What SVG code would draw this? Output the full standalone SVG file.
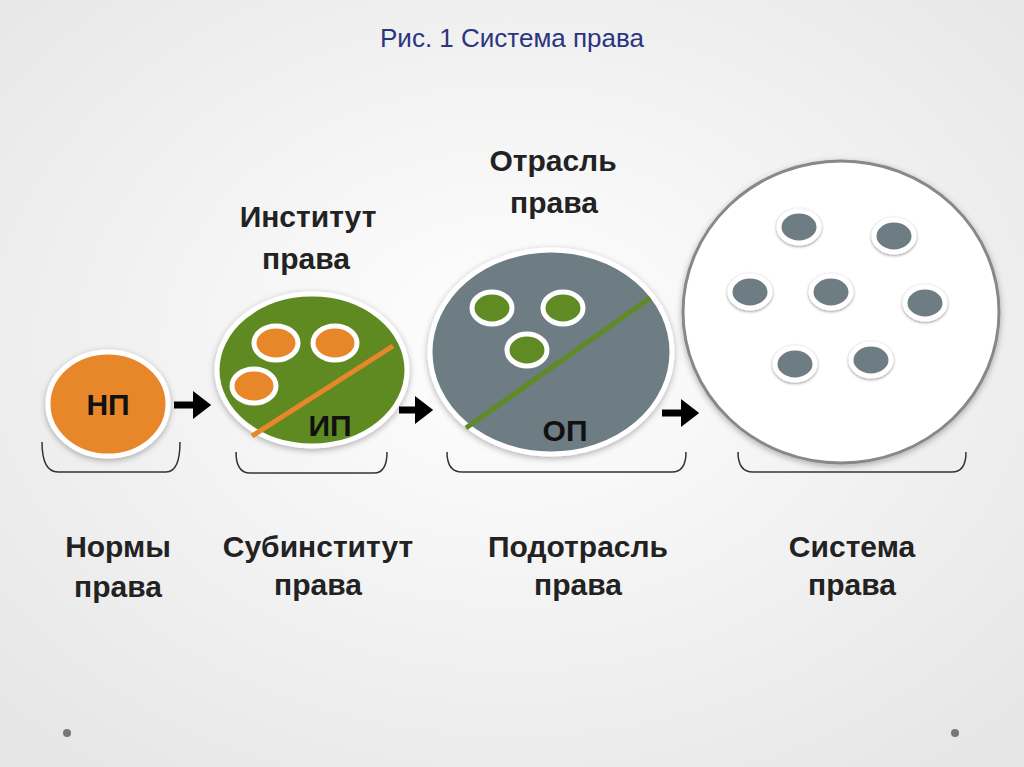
<svg xmlns="http://www.w3.org/2000/svg" width="1024" height="767" viewBox="0 0 1024 767">
<defs>
<radialGradient id="bg" cx="0.5" cy="0.45" r="0.7"><stop offset="0" stop-color="#ffffff"/><stop offset="1" stop-color="#e6e6e6"/></radialGradient>
<marker id="ah" markerWidth="4" markerHeight="4" refX="1" refY="2" orient="auto" markerUnits="strokeWidth"><path d="M0,0 L2.6,2 L0,4 Z" fill="#000"/></marker>
<filter id="sh" x="-20%" y="-20%" width="140%" height="140%"><feDropShadow dx="0" dy="2" stdDeviation="3" flood-color="#000" flood-opacity="0.3"/></filter>
<filter id="sh2" x="-40%" y="-40%" width="180%" height="180%"><feDropShadow dx="0" dy="1" stdDeviation="1.5" flood-color="#000" flood-opacity="0.45"/></filter>
</defs>
<style>
.t{font-family:"Liberation Sans",Arial,sans-serif;font-weight:bold;font-size:30px;fill:#222;text-anchor:middle}
.in{font-family:"Liberation Sans",Arial,sans-serif;font-weight:bold;font-size:30px;fill:#111;text-anchor:middle}
.br{fill:none;stroke:#333;stroke-width:1.5}
.o{fill:#E8862A;stroke:#fff;stroke-width:5}
.g{fill:#5F8A24;stroke:#fff;stroke-width:5}
.s{fill:#6E7B83;stroke:#fff;stroke-width:5}
.c{stroke:#000;stroke-width:7;fill:none;marker-end:url(#ah)}
</style>
<rect width="1024" height="767" fill="url(#bg)"/>
<text x="512" y="47" font-family="'Liberation Sans',Arial,sans-serif" font-size="26" fill="#2A3580" text-anchor="middle">Рис. 1 Система права</text>
<g id="np"><ellipse cx="108" cy="404" rx="60" ry="52" class="o" filter="url(#sh)"/><text x="108" y="415" class="in">НП</text></g>
<g id="ip"><ellipse cx="312" cy="370" rx="95" ry="76" class="g" filter="url(#sh)"/>
<line x1="252" y1="436" x2="393" y2="346" stroke="#E8862A" stroke-width="5"/>
<ellipse cx="276" cy="343" rx="22" ry="17" class="o"/><ellipse cx="335" cy="343" rx="22" ry="17" class="o"/><ellipse cx="254" cy="386" rx="22" ry="17" class="o"/>
<text x="330" y="436" class="in">ИП</text></g>
<g id="op"><ellipse cx="551" cy="352" rx="121" ry="102" class="s" filter="url(#sh)"/>
<line x1="466" y1="428" x2="650" y2="298" stroke="#5F8A24" stroke-width="5"/>
<ellipse cx="492" cy="308" rx="20" ry="16" class="g"/><ellipse cx="563" cy="308" rx="20" ry="16" class="g"/><ellipse cx="527" cy="350" rx="20" ry="16" class="g"/>
<text x="565" y="441" class="in">ОП</text></g>
<g id="sys"><ellipse cx="841" cy="312" rx="158" ry="151" fill="#fff" stroke="#888" stroke-width="3" filter="url(#sh)"/>
<g filter="url(#sh2)"><ellipse cx="799" cy="227" rx="20" ry="16" class="s"/><ellipse cx="894" cy="236" rx="20" ry="16" class="s"/><ellipse cx="750" cy="292" rx="20" ry="16" class="s"/><ellipse cx="831" cy="292" rx="20" ry="16" class="s"/><ellipse cx="925" cy="303" rx="20" ry="16" class="s"/><ellipse cx="795" cy="364" rx="20" ry="16" class="s"/><ellipse cx="871" cy="360" rx="20" ry="16" class="s"/></g></g>
<g id="connectors"><line x1="174" y1="405" x2="200" y2="405" class="c"/><line x1="399" y1="410" x2="422" y2="410" class="c"/><line x1="662" y1="413" x2="688" y2="413" class="c"/></g>
<g id="braces">
<path class="br" d="M42,442 Q42,472 58,472 L166,472 Q180,472 180,442"/>
<path class="br" d="M236,452 Q236,473 250,473 L374,473 Q387,473 387,452"/>
<path class="br" d="M447,452 Q447,472 462,472 L672,472 Q686,472 686,452"/>
<path class="br" d="M738,452 Q738,472 753,472 L952,472 Q966,472 966,452"/>
</g>
<g id="labels">
<text x="308" y="227" class="t">Институт</text><text x="306" y="269" class="t">права</text>
<text x="553" y="171" class="t">Отрасль</text><text x="554" y="213" class="t">права</text>
<text x="118" y="557" class="t">Нормы</text><text x="118" y="597" class="t">права</text>
<text x="318" y="557" class="t">Субинститут</text><text x="318" y="595" class="t">права</text>
<text x="578" y="557" class="t">Подотрасль</text><text x="578" y="595" class="t">права</text>
<text x="852" y="557" class="t">Система</text><text x="852" y="595" class="t">права</text>
</g>
<circle cx="67" cy="733" r="4" fill="#777"/><circle cx="955" cy="733" r="4" fill="#777"/>
</svg>
